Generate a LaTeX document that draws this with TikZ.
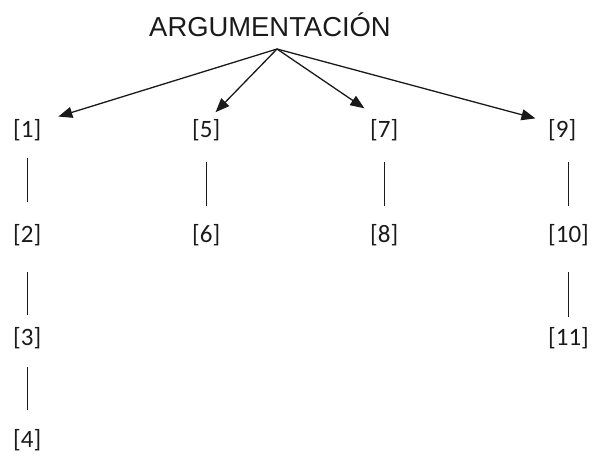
\documentclass[tikz,border=0pt]{standalone}
\usepackage{fontspec}
\setmainfont{Carlito}
\newfontfamily\titlefont{Liberation Sans}
\usetikzlibrary{arrows.meta}
\definecolor{ink}{HTML}{1A1A1A}
\tikzset{
  lbl/.style={inner sep=0pt, anchor=base west, text height=16pt, text depth=4pt,
              font=\fontsize{25}{25}\selectfont, text=ink},
  ttl/.style={inner sep=0pt, anchor=base, font=\titlefont\fontsize{27.4}{28}\selectfont, text=ink},
  arr/.style={draw=ink, line width=1.3pt, -{Triangle[length=14pt,width=11pt]}},
  lnk/.style={draw=ink, line width=1.2pt}
}
\begin{document}
\begin{tikzpicture}[x=1pt,y=-1pt]
\useasboundingbox (0,0) rectangle (596,457);
\node[ttl] (title) at (270,37) {ARGUMENTACIÓN};
\coordinate (hub) at (277,49);
\node[lbl] (n1) at (13,138) {[1]};
\node[lbl] (n2) at (13,242) {[2]};
\node[lbl] (n3) at (13,345) {[3]};
\node[lbl] (n4) at (13,447) {[4]};
\node[lbl] (n5) at (192,138) {[5]};
\node[lbl] (n6) at (192,242) {[6]};
\node[lbl] (n7) at (370,138) {[7]};
\node[lbl] (n8) at (370,242) {[8]};
\node[lbl] (n9) at (548,138) {[9]};
\node[lbl] (n10) at (548,242) {[10]};
\node[lbl] (n11) at (548,345) {[11]};
% arrows
\draw[arr, shorten >=17.7pt] (hub) -- (n1.north east);
\draw[arr, shorten >=13.4pt] (hub) -- (n5.north);
\draw[arr, shorten >=24pt] (hub) -- (n7.north);
\draw[arr, shorten >=13pt] (hub) -- (n9.north west);
% vertical links
\draw[lnk, shorten <=16pt, shorten >=24pt] (n1.south) -- (n2.north);
\draw[lnk, shorten <=26pt, shorten >=14pt] (n2.south) -- (n3.north);
\draw[lnk, shorten <=18pt, shorten >=21pt] (n3.south) -- (n4.north);
\draw[lnk, shorten <=20pt, shorten >=20pt] (n5.south) -- (n6.north);
\draw[lnk, shorten <=20pt, shorten >=20pt] (n7.south) -- (n8.north);
\draw[lnk, shorten <=20pt, shorten >=20pt] (n9.south -| n10.north) -- (n10.north);
\draw[lnk, shorten <=26pt, shorten >=12pt] (n10.south) -- (n11.north);
\end{tikzpicture}
\end{document}
